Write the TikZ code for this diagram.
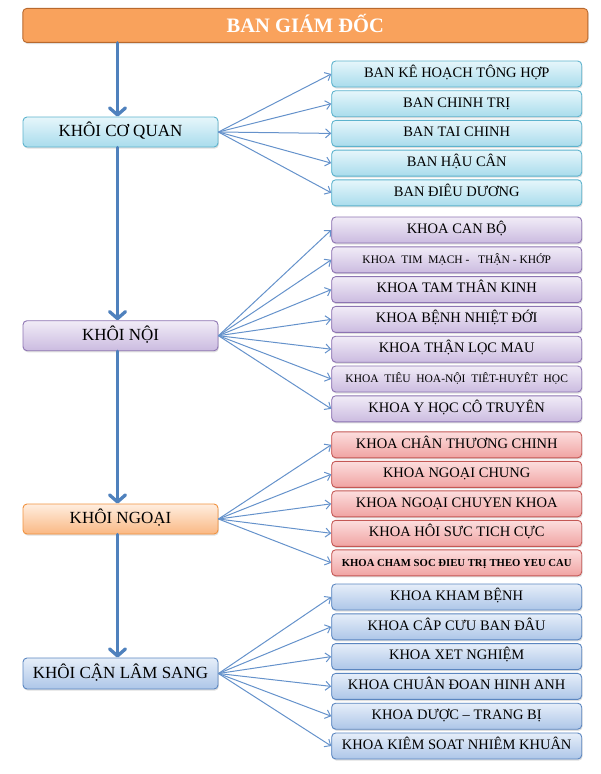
\documentclass[tikz,border=0pt]{standalone}
\usepackage{fontspec}
\setmainfont{Liberation Serif}
\usetikzlibrary{arrows.meta,shadows}

\definecolor{camTop}{HTML}{F9A25C}
\definecolor{camVien}{HTML}{B8692E}
\definecolor{xanhTop}{HTML}{E6F6FB}
\definecolor{xanhDay}{HTML}{A9DCEC}
\definecolor{xanhVien}{HTML}{5DB3CD}
\definecolor{timTop}{HTML}{F1ECF7}
\definecolor{timDay}{HTML}{CBBBE0}
\definecolor{timVien}{HTML}{8D74B2}
\definecolor{doTop}{HTML}{FCDEDE}
\definecolor{doDay}{HTML}{F0A3A2}
\definecolor{doVien}{HTML}{C45855}
\definecolor{camNhatTop}{HTML}{FFEEE0}
\definecolor{camNhatDay}{HTML}{FAB883}
\definecolor{camNhatVien}{HTML}{F0923F}
\definecolor{lamTop}{HTML}{E6EEF9}
\definecolor{lamDay}{HTML}{ADC6E8}
\definecolor{lamVien}{HTML}{5B86C0}
\definecolor{muiTen}{HTML}{4F81BD}
\definecolor{muiNho}{HTML}{6592CB}

\tikzset{
  hop/.style={rounded corners=4pt, line width=0.9pt, inner sep=0pt, align=center,
    drop shadow={shadow xshift=0.8pt, shadow yshift=-1.6pt, opacity=0.25}},
  khoi/.style={hop, minimum width=195pt, minimum height=30pt,
    text height=11.3pt, text depth=2pt, font=\fontsize{17}{19}\selectfont},
  donvi/.style={hop, minimum width=250pt, minimum height=26pt,
    text height=9.6pt, text depth=3pt, font=\fontsize{14.5}{16}\selectfont},
  xanh/.style={top color=xanhTop, bottom color=xanhDay, draw=xanhVien},
  tim/.style={top color=timTop, bottom color=timDay, draw=timVien},
  hong/.style={top color=doTop, bottom color=doDay, draw=doVien},
  camnhat/.style={top color=camNhatTop, bottom color=camNhatDay, draw=camNhatVien},
  lam/.style={top color=lamTop, bottom color=lamDay, draw=lamVien},
  xuong/.style={line width=3.3pt, draw=muiTen, line cap=round,
    -{Straight Barb[length=7pt, width=16pt, line width=3.3pt, round]}},
  nhanh/.style={line width=1pt, draw=muiNho,
    -{Straight Barb[length=5pt, width=9pt, line width=1pt]}},
}

\begin{document}
\begin{tikzpicture}[x=1pt, y=-1pt]
\useasboundingbox (0,0) rectangle (600,774);

% ban giam doc
\node (bgd) [hop, minimum width=565pt, minimum height=34pt, fill=camTop, draw=camVien,
  text=white, text height=13.3pt, text depth=0pt,
  font=\bfseries\fontsize{20.5}{22}\selectfont] at (305.3,25.4) {BAN GIÁM ĐỐC};

% cac khoi
\node (coquan) [khoi, xanh] at (120.5,132) {KHÔI CƠ QUAN};
\node (noi) [khoi, tim] at (120.5,335.7) {KHÔI NỘI};
\node (ngoai) [khoi, camnhat] at (120.5,519) {KHÔI NGOẠI};
\node (cls) [khoi, lam, minimum height=31pt] at (120.5,673.5) {KHÔI CẬN LÂM SANG};

% khoi co quan
\node (cq1) [donvi, xanh] at (456.7,74) {BAN KÊ HOẠCH TÔNG HỢP};
\node (cq2) [donvi, xanh] at (456.7,103.7) {BAN CHINH TRỊ};
\node (cq3) [donvi, xanh] at (456.7,133.4) {BAN TAI CHINH};
\node (cq4) [donvi, xanh] at (456.7,163.1) {BAN HẬU CÂN};
\node (cq5) [donvi, xanh] at (456.7,192.8) {BAN ĐIÊU DƯƠNG};

% khoi noi
\node (noi1) [donvi, tim] at (456.7,230) {KHOA CAN BỘ};
\node (noi2) [donvi, tim, font=\fontsize{11.5}{13}\selectfont] at (456.7,259.8)
  {KHOA\ \ TIM\ \ MẠCH\ -\ \ \ THẬN\ -\ KHỚP};
\node (noi3) [donvi, tim] at (456.7,289.6) {KHOA TAM THÂN KINH};
\node (noi4) [donvi, tim] at (456.7,319.4) {KHOA BỆNH NHIỆT ĐỚI};
\node (noi5) [donvi, tim] at (456.7,349.2) {KHOA THẬN LỌC MAU};
\node (noi6) [donvi, tim, font=\fontsize{11.5}{13}\selectfont] at (456.7,379)
  {KHOA\ \ TIÊU\ \ HOA-NỘI\ \ TIÊT-HUYÊT\ \ HỌC};
\node (noi7) [donvi, tim] at (456.7,408.8) {KHOA Y HỌC CÔ TRUYÊN};

% khoi ngoai
\node (ngoai1) [donvi, hong] at (456.7,444.8) {KHOA CHÂN THƯƠNG CHINH};
\node (ngoai2) [donvi, hong] at (456.7,474.3) {KHOA NGOẠI CHUNG};
\node (ngoai3) [donvi, hong] at (456.7,503.8) {KHOA NGOẠI CHUYEN KHOA};
\node (ngoai4) [donvi, hong] at (456.7,533.3) {KHOA HÔI SƯC TICH CỰC};
\node (ngoai5) [donvi, hong, font=\bfseries\fontsize{10.7}{12}\selectfont] at (456.7,562.8)
  {KHOA CHAM SOC ĐIEU TRỊ THEO YEU CAU};

% khoi can lam sang
\node (cls1) [donvi, lam] at (456.7,597) {KHOA KHAM BỆNH};
\node (cls2) [donvi, lam] at (456.7,626.8) {KHOA CÂP CƯU BAN ĐÂU};
\node (cls3) [donvi, lam] at (456.7,656.6) {KHOA XET NGHIỆM};
\node (cls4) [donvi, lam] at (456.7,686.4) {KHOA CHUÂN ĐOAN HINH ANH};
\node (cls5) [donvi, lam] at (456.7,716.2) {KHOA DƯỢC – TRANG BỊ};
\node (cls6) [donvi, lam] at (456.7,746) {KHOA KIÊM SOAT NHIÊM KHUÂN};

% truc doc
\draw [xuong] ([xshift=-3pt]coquan.north |- bgd.south) -- ([xshift=-3pt]coquan.north);
\draw [xuong] ([xshift=-3pt]coquan.south) -- ([xshift=-3pt]noi.north);
\draw [xuong] ([xshift=-3pt]noi.south) -- ([xshift=-3pt]ngoai.north);
\draw [xuong] ([xshift=-3pt]ngoai.south) -- ([xshift=-3pt]cls.north);

% nhanh
\draw [nhanh] (coquan.east) -- (cq1.west);
\draw [nhanh] (coquan.east) -- (cq2.west);
\draw [nhanh] (coquan.east) -- (cq3.west);
\draw [nhanh] (coquan.east) -- (cq4.west);
\draw [nhanh] (coquan.east) -- (cq5.west);
\draw [nhanh] (noi.east) -- (noi1.west);
\draw [nhanh] (noi.east) -- (noi2.west);
\draw [nhanh] (noi.east) -- (noi3.west);
\draw [nhanh] (noi.east) -- (noi4.west);
\draw [nhanh] (noi.east) -- (noi5.west);
\draw [nhanh] (noi.east) -- (noi6.west);
\draw [nhanh] (noi.east) -- (noi7.west);
\draw [nhanh] (ngoai.east) -- (ngoai1.west);
\draw [nhanh] (ngoai.east) -- (ngoai2.west);
\draw [nhanh] (ngoai.east) -- (ngoai3.west);
\draw [nhanh] (ngoai.east) -- (ngoai4.west);
\draw [nhanh] (ngoai.east) -- (ngoai5.west);
\draw [nhanh] (cls.east) -- (cls1.west);
\draw [nhanh] (cls.east) -- (cls2.west);
\draw [nhanh] (cls.east) -- (cls3.west);
\draw [nhanh] (cls.east) -- (cls4.west);
\draw [nhanh] (cls.east) -- (cls5.west);
\draw [nhanh] (cls.east) -- (cls6.west);
\end{tikzpicture}
\end{document}
